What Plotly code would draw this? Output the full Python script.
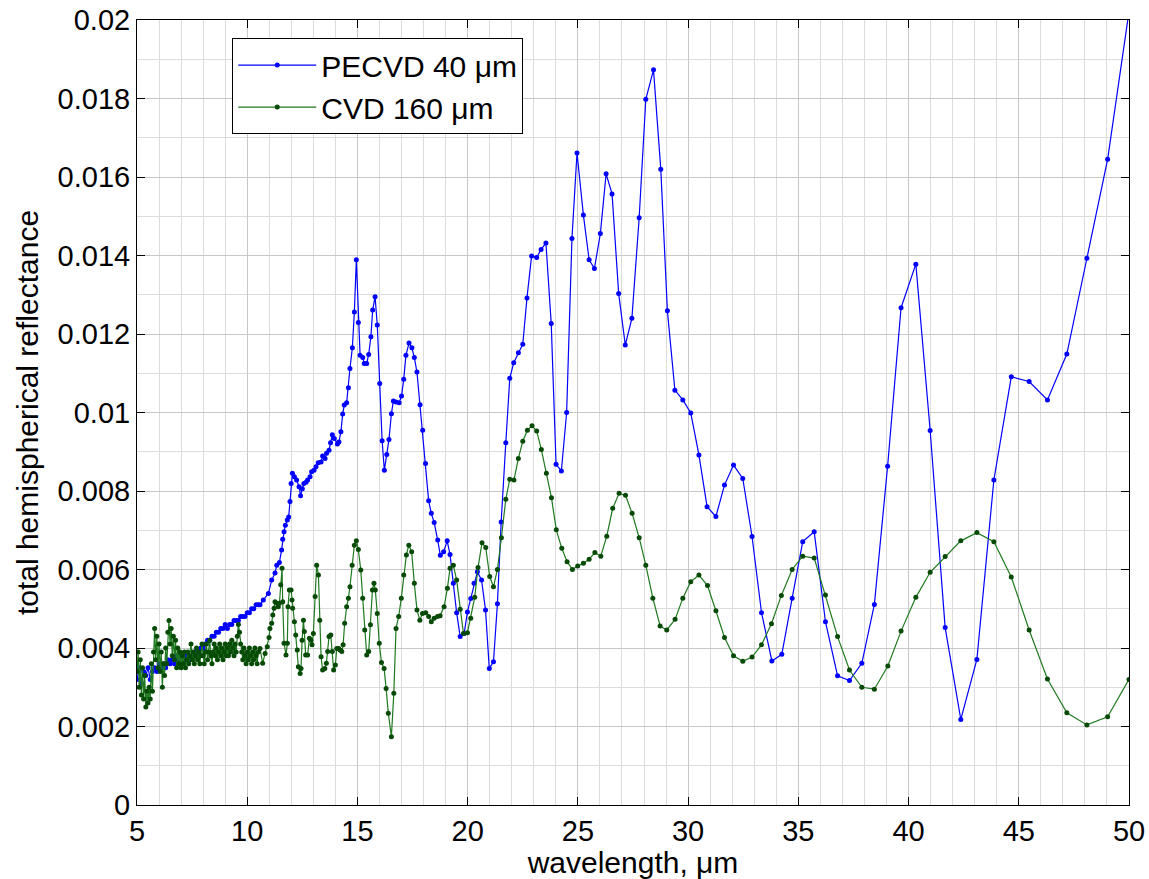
import plotly.graph_objects as go

# ---------------- PECVD 40 um (blue) ----------------
pecvd_x = [
    5.0, 5.1, 5.2, 5.3, 5.4, 5.5, 5.6, 5.7, 5.8, 5.9, 6.0, 6.1, 6.2, 6.3, 6.4, 6.5, 6.6, 6.7, 6.8, 6.9,
    7.0, 7.1, 7.2, 7.3, 7.4, 7.5, 7.6, 7.7, 7.8, 7.9, 8.0, 8.1, 8.2, 8.3, 8.4, 8.5, 8.6, 8.7, 8.8, 8.9,
    9.0, 9.1, 9.2, 9.3, 9.4, 9.5, 9.6, 9.7, 9.8, 9.9, 10.0, 10.1, 10.2, 10.3, 10.4, 10.5,
    10.58, 10.73, 10.96, 11.11, 11.26, 11.34, 11.46, 11.56, 11.61, 11.67, 11.73, 11.82, 11.88, 11.94,
    11.99, 12.05, 12.14, 12.24, 12.35, 12.42, 12.50, 12.57, 12.67, 12.74, 12.85, 12.92, 13.03, 13.12,
    13.22, 13.35, 13.42, 13.53, 13.60, 13.71, 13.78, 13.86, 13.95, 14.09, 14.16, 14.25, 14.33, 14.40,
    14.51, 14.59, 14.66, 14.77, 14.86, 14.95, 15.04, 15.12, 15.24, 15.31, 15.42, 15.51, 15.61, 15.69,
    15.80, 15.90, 16.01, 16.12, 16.22, 16.33, 16.43, 16.54, 16.63, 16.75, 16.89, 17.00, 17.10, 17.20,
    17.34, 17.47, 17.58, 17.70, 17.84, 17.96, 18.09, 18.23, 18.35, 18.48, 18.64, 18.76, 18.91, 19.07,
    19.20, 19.35, 19.50, 19.66, 19.84, 19.99, 20.14, 20.29, 20.44,
    20.63, 20.81, 20.98, 21.17, 21.35, 21.52, 21.73, 21.91, 22.09, 22.30, 22.50, 22.69, 22.90, 23.13,
    23.33, 23.55, 23.79, 24.01, 24.25, 24.49, 24.73, 24.96, 25.25, 25.51, 25.75, 26.02, 26.28, 26.55,
    26.85, 27.15, 27.45, 27.78, 28.08, 28.43, 28.76, 29.06, 29.40, 29.76, 30.12, 30.49, 30.86, 31.26,
    31.65, 32.06, 32.48, 32.90, 33.33, 33.80, 34.25, 34.72, 35.20, 35.72, 36.23, 36.78, 37.32, 37.88,
    38.45, 39.05, 39.66, 40.33, 40.98, 41.66, 42.37, 43.10, 43.87, 44.66, 45.47, 46.30, 47.18, 48.09,
    49.03, 49.97,
]
pecvd_y = [
    0.0032, 0.0035, 0.0031, 0.0034, 0.0033, 0.0035, 0.0032, 0.0034, 0.0035, 0.0034, 0.0036, 0.0035,
    0.0036, 0.0035, 0.0037, 0.0036, 0.0037, 0.0036, 0.0038, 0.0037, 0.0038, 0.0037, 0.0038, 0.0038,
    0.0037, 0.0038, 0.0039, 0.0038, 0.0039, 0.0040, 0.0040, 0.0041, 0.0042, 0.0042, 0.0043, 0.0043,
    0.0044, 0.0044, 0.0045, 0.0045, 0.0046, 0.0045, 0.0046, 0.0046, 0.0047, 0.0047, 0.0047, 0.0048,
    0.0048, 0.0048, 0.0049, 0.0049, 0.0050, 0.0050, 0.0051, 0.0051,
    0.00510, 0.00522, 0.00539, 0.00573, 0.00591, 0.00611, 0.00618, 0.00650, 0.00677, 0.00696,
    0.00713, 0.00726, 0.00734, 0.00773, 0.00819, 0.00845, 0.00836, 0.00828, 0.00811, 0.00788,
    0.00806, 0.00819, 0.00822, 0.00828, 0.00836, 0.00849, 0.00853, 0.00862, 0.00872, 0.00874,
    0.00889, 0.00883, 0.00896, 0.00904, 0.00923, 0.00943, 0.00934, 0.00920, 0.00925, 0.00951,
    0.00996, 0.01019, 0.01025, 0.01063, 0.01112, 0.01165, 0.01256, 0.01389, 0.01229, 0.01146,
    0.01140, 0.01125, 0.01125, 0.01148, 0.01193, 0.01261, 0.01295, 0.01223, 0.01074, 0.00928,
    0.00853, 0.00893, 0.00931, 0.00997, 0.01029, 0.01027, 0.01025, 0.01042, 0.01085, 0.01146,
    0.01177, 0.01165, 0.01140, 0.01103, 0.01020, 0.00955, 0.00870, 0.00775, 0.00743, 0.00720,
    0.00675, 0.00636, 0.00645, 0.00673, 0.00638, 0.00565, 0.00490, 0.00429, 0.00437, 0.00492,
    0.00526, 0.00565, 0.00594,
    0.00573, 0.00497, 0.00348, 0.00365, 0.00513, 0.00721, 0.00923, 0.01087, 0.01127, 0.01152,
    0.01174, 0.01292, 0.01399, 0.01395, 0.01415, 0.01432, 0.01227, 0.00868, 0.00851, 0.01000,
    0.01443, 0.01661, 0.01503, 0.01389, 0.01367, 0.01456, 0.01608, 0.01557, 0.01303, 0.01172,
    0.01240, 0.01496, 0.01798, 0.01873, 0.01620, 0.01259, 0.01057, 0.01032, 0.00999, 0.00892,
    0.00760, 0.00735, 0.00815, 0.00866, 0.00832, 0.00684, 0.00490, 0.00367, 0.00384, 0.00527,
    0.00671, 0.00696, 0.00467, 0.00329, 0.00317, 0.00361, 0.00511, 0.00863, 0.01267, 0.01378,
    0.00954, 0.00452, 0.00218, 0.00371, 0.00828, 0.01091, 0.01079, 0.01032, 0.01149, 0.01393,
    0.01645, 0.02010,
]

# ---------------- CVD 160 um (green) ----------------
cvd_x = [
    5.00, 5.05, 5.10, 5.15, 5.20, 5.25, 5.30, 5.35, 5.40, 5.45, 5.50, 5.55, 5.60, 5.65, 5.70, 5.75,
    5.80, 5.85, 5.90, 5.95, 6.00, 6.05, 6.10, 6.15, 6.20, 6.25, 6.30, 6.35, 6.40, 6.45, 6.50, 6.55,
    6.60, 6.65, 6.70, 6.75, 6.80, 6.85, 6.90, 6.95, 7.00, 7.05, 7.10, 7.15, 7.20, 7.25, 7.30, 7.35,
    7.40, 7.45, 7.50, 7.55, 7.60, 7.65, 7.70, 7.75, 7.80, 7.85, 7.90, 7.95, 8.00, 8.05, 8.10, 8.15,
    8.20, 8.25, 8.30, 8.35, 8.40, 8.45, 8.50, 8.55, 8.60, 8.65, 8.70, 8.75, 8.80, 8.85, 8.90, 8.95,
    9.00, 9.05, 9.10, 9.15, 9.20, 9.25, 9.30, 9.35, 9.40, 9.45, 9.50, 9.55, 9.60, 9.65, 9.70, 9.75,
    9.80, 9.85, 9.90, 9.95, 10.00, 10.05, 10.10, 10.15, 10.20, 10.25, 10.30, 10.35, 10.40, 10.45, 10.50,
    10.58, 10.70, 10.81, 10.91, 10.99, 11.03, 11.11, 11.16, 11.22, 11.26, 11.34, 11.41, 11.46, 11.52,
    11.58, 11.61, 11.67, 11.76, 11.82, 11.85, 11.91, 11.99, 12.03, 12.06, 12.14, 12.20, 12.27, 12.32,
    12.40, 12.44, 12.49, 12.55, 12.59, 12.65, 12.74, 12.82, 12.89, 12.94, 13.00, 13.08, 13.15, 13.23,
    13.29, 13.35, 13.42, 13.52, 13.59, 13.65, 13.71, 13.79, 13.86, 13.92, 14.00, 14.06, 14.15, 14.21,
    14.29, 14.35, 14.42, 14.51, 14.59, 14.66, 14.76, 14.86, 14.95, 15.04, 15.15, 15.24, 15.33, 15.42,
    15.51, 15.59, 15.68, 15.75, 15.81, 15.90, 15.99, 16.09, 16.21, 16.30, 16.40, 16.54, 16.65, 16.75,
    16.87, 16.99, 17.10, 17.22, 17.33, 17.46, 17.58, 17.70, 17.83, 17.95, 18.10, 18.23, 18.35, 18.48,
    18.63,
    18.75, 18.93, 19.08, 19.20, 19.35, 19.50, 19.66, 19.81, 19.99, 20.14, 20.32, 20.47, 20.65, 20.82,
    21.00, 21.17, 21.35, 21.53, 21.73, 21.91, 22.10, 22.30, 22.50, 22.71, 22.92, 23.13, 23.34, 23.57,
    23.80, 24.02, 24.27, 24.51, 24.75, 24.99, 25.25, 25.51, 25.77, 26.04, 26.31, 26.58, 26.87, 27.16,
    27.46, 27.78, 28.08, 28.40, 28.73, 29.03, 29.41, 29.76, 30.12, 30.49, 30.88, 31.26, 31.65, 32.06,
    32.48, 32.90, 33.33, 33.78, 34.23, 34.72, 35.20, 35.72, 36.23, 36.78, 37.32, 37.88, 38.45, 39.06,
    39.66, 40.33, 40.98, 41.66, 42.37, 43.10, 43.87, 44.66, 45.47, 46.30, 47.18, 48.09, 49.03, 50.00,
]
cvd_y = [
    0.0034, 0.0039, 0.0030, 0.0037, 0.0028, 0.0035, 0.0027, 0.0033, 0.0025, 0.0029, 0.0026, 0.0030,
    0.0027, 0.0036, 0.0029, 0.0039, 0.0045, 0.0037, 0.0043, 0.0035, 0.0041, 0.0034, 0.0039, 0.0030,
    0.0036, 0.0033, 0.0040, 0.0036, 0.0044, 0.0047, 0.0041, 0.0045, 0.0038, 0.0043, 0.0037, 0.0042,
    0.0035, 0.0040, 0.0036, 0.0039, 0.0035, 0.0038, 0.0036, 0.0039, 0.0035, 0.0037, 0.0039, 0.0036,
    0.0038, 0.0041, 0.0037, 0.0039, 0.0036, 0.0038, 0.0040, 0.0037, 0.0039, 0.0036, 0.0038, 0.0041,
    0.0038, 0.0036, 0.0039, 0.0041, 0.0037, 0.0039, 0.0042, 0.0038, 0.0036, 0.0039, 0.0041, 0.0038,
    0.0040, 0.0037, 0.0039, 0.0041, 0.0038, 0.0040, 0.0037, 0.0039, 0.0041, 0.0038, 0.0040, 0.0038,
    0.0041, 0.0039, 0.0042, 0.0040, 0.0038, 0.0041, 0.0039, 0.0043, 0.0046, 0.0044, 0.0041, 0.0039,
    0.0037, 0.0040, 0.0038, 0.0036, 0.0039, 0.0037, 0.0040, 0.0038, 0.0036, 0.0039, 0.0037, 0.0040,
    0.0038, 0.0036, 0.0039,
    0.00399, 0.00361, 0.00386, 0.00403, 0.00427, 0.00450, 0.00463, 0.00484, 0.00501, 0.00518,
    0.00514, 0.00505, 0.00514, 0.00561, 0.00603, 0.00518, 0.00412, 0.00382, 0.00412, 0.00505,
    0.00548, 0.00548, 0.00522, 0.00501, 0.00467, 0.00433, 0.00395, 0.00352, 0.00335, 0.00348,
    0.00420, 0.00471, 0.00442, 0.00382, 0.00382, 0.00425, 0.00420, 0.00408, 0.00437, 0.00531,
    0.00611, 0.00586, 0.00471, 0.00378, 0.00344, 0.00348, 0.00361, 0.00391, 0.00429, 0.00433,
    0.00391, 0.00344, 0.00357, 0.00399, 0.00399, 0.00395, 0.00391, 0.00408, 0.00463, 0.00505,
    0.00527, 0.00556, 0.00611, 0.00662, 0.00673, 0.00651, 0.00599, 0.00527, 0.00446, 0.00382,
    0.00391, 0.00459, 0.00548, 0.00565, 0.00548, 0.00488, 0.00412, 0.00363, 0.00348, 0.00297,
    0.00234, 0.00174, 0.00285, 0.00450, 0.00480, 0.00527, 0.00586, 0.00637, 0.00662, 0.00645,
    0.00565, 0.00497, 0.00471, 0.00488, 0.00490, 0.00480, 0.00467, 0.00476, 0.00480,
    0.00482, 0.00505, 0.00552, 0.00603, 0.00611, 0.00573, 0.00499, 0.00437, 0.00439, 0.00476,
    0.00529, 0.00605, 0.00668, 0.00656, 0.00582, 0.00556, 0.00600, 0.00681, 0.00779, 0.00830,
    0.00828, 0.00883, 0.00927, 0.00955, 0.00966, 0.00953, 0.00906, 0.00845, 0.00783, 0.00701,
    0.00654, 0.00620, 0.00600, 0.00609, 0.00616, 0.00626, 0.00643, 0.00634, 0.00685, 0.00756,
    0.00794, 0.00789, 0.00743, 0.00681, 0.00611, 0.00527, 0.00456, 0.00446, 0.00473, 0.00527,
    0.00569, 0.00586, 0.00559, 0.00495, 0.00427, 0.00380, 0.00366, 0.00377, 0.00408, 0.00462,
    0.00534, 0.00600, 0.00634, 0.00629, 0.00535, 0.00429, 0.00344, 0.00300, 0.00295, 0.00354,
    0.00443, 0.00529, 0.00593, 0.00633, 0.00673, 0.00694, 0.00671, 0.00581, 0.00446, 0.00321,
    0.00235, 0.00204, 0.00225, 0.00320,
]

x_tickvals = [5, 10, 15, 20, 25, 30, 35, 40, 45, 50]
y_tickvals = [0, 0.002, 0.004, 0.006, 0.008, 0.01, 0.012, 0.014, 0.016, 0.018, 0.02]
y_ticktext = ["0", "0.002", "0.004", "0.006", "0.008", "0.01", "0.012", "0.014", "0.016", "0.018", "0.02"]

FONT = "Liberation Sans, Arial, Helvetica, sans-serif"

fig = go.Figure()
fig.add_trace(go.Scatter(
    x=pecvd_x, y=pecvd_y, mode="lines+markers", name="PECVD 40 \u03bcm",
    line=dict(color="#0000ff", width=1.2),
    marker=dict(color="#0000ff", size=5),
))
fig.add_trace(go.Scatter(
    x=cvd_x, y=cvd_y, mode="lines+markers", name="CVD 160 \u03bcm",
    line=dict(color="#1f7a1f", width=1.2),
    marker=dict(color="#064a06", size=5),
))

grid_major = "#c8c8c8"
grid_minor = "#dcdcdc"

fig.update_layout(
    width=1149, height=879,
    margin=dict(l=137, r=20, t=20, b=74, autoexpand=False),
    paper_bgcolor="white", plot_bgcolor="white",
    font=dict(family=FONT, size=29, color="black"),
    showlegend=True,
    legend=dict(
        x=0.096, y=0.977, xanchor="left", yanchor="top",
        bgcolor="white", bordercolor="black", borderwidth=1,
        font=dict(family=FONT, size=30, color="black"),
        tracegroupgap=0, itemwidth=78,
    ),
    xaxis=dict(
        range=[5, 50], tickmode="array", tickvals=x_tickvals, automargin=False,
        showline=True, linecolor="black", linewidth=1, mirror="ticks",
        ticks="inside", ticklen=8, tickcolor="black",
        showgrid=True, gridcolor=grid_major, gridwidth=1, zeroline=False,
        minor=dict(tickmode="linear", tick0=5, dtick=1, showgrid=True,
                   gridcolor=grid_minor, gridwidth=1, ticks=""),
        tickfont=dict(size=29),
        title=dict(text="wavelength, \u03bcm", font=dict(size=30), standoff=2),
    ),
    yaxis=dict(
        range=[0, 0.02], tickmode="array", tickvals=y_tickvals, ticktext=y_ticktext,
        automargin=False,
        showline=True, linecolor="black", linewidth=1, mirror="ticks",
        ticks="inside", ticklen=8, tickcolor="black",
        showgrid=True, gridcolor=grid_major, gridwidth=1, zeroline=False,
        minor=dict(tickmode="linear", tick0=0, dtick=0.001, showgrid=True,
                   gridcolor=grid_minor, gridwidth=1, ticks=""),
        tickfont=dict(size=29),
        title=dict(text="total hemispherical reflectance", font=dict(size=30), standoff=10),
    ),
)

fig.write_html("out.html")
